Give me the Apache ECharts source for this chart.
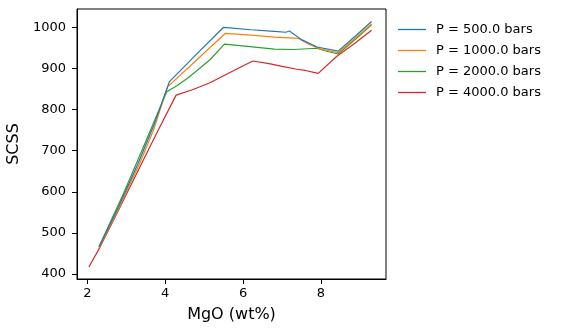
<!DOCTYPE html>
<html>
<head>
<meta charset="utf-8">
<script src="https://cdn.jsdelivr.net/npm/echarts@6/dist/echarts.min.js"></script>
<style>html,body{margin:0;padding:0;background:#fff}#c{width:565px;height:333px}</style>
</head>
<body>
<div id="c"></div>
<script>
const seriesNames = ['P = 500.0 bars', 'P = 1000.0 bars', 'P = 2000.0 bars', 'P = 4000.0 bars'];
const colors = ['#1f77b4', '#ff7f0e', '#2ca02c', '#d62728'];
const xTicks = [2, 4, 6, 8];
const yTicks = [400, 500, 600, 700, 800, 900, 1000];

const p500 = [[2.3,466],[2.8,563],[3.3,668],[3.7,760],[4.11,868],[4.8,934],[5.5,1000],[6.2,994],[6.8,990],[7.1,988],[7.19,991],[7.5,970],[7.9,952],[8.44,942],[8.9,980],[9.3,1014]];
const p1000 = [[2.3,464],[2.8,558],[3.35,670],[3.7,750],[4.06,855],[4.8,920],[5.54,985],[6.2,981],[6.8,976],[7.42,973],[7.7,958],[8.0,947],[8.44,938],[8.9,975],[9.3,1008]];
const p2000 = [[2.3,466],[2.93,596],[3.5,722],[4.04,843],[4.3,858],[4.6,878],[5.15,921],[5.52,959],[6.18,953],[6.8,947],[7.3,946],[7.89,949],[8.1,943],[8.44,935],[8.9,972],[9.3,1006]];
const p4000 = [[2.04,417],[2.33,466],[2.8,555],[3.35,660],[3.8,746],[4.28,835],[4.7,848],[5.15,865],[5.7,892],[6.25,918],[6.7,911],[7.0,905],[7.38,898],[7.6,895],[7.93,888],[8.4,929],[8.87,961],[9.3,993]];
const dataSets = [p500, p1000, p2000, p4000];

const chart = echarts.init(document.getElementById('c'), null, {renderer: 'canvas'});
const font = 'DejaVu Sans';
chart.setOption({
  animation: false,
  textStyle: {fontFamily: font},
  grid: {left: 77, right: 179, top: 9, bottom: 54, show: true, borderColor: '#000', borderWidth: 1, backgroundColor: '#fff', containLabel: false, outerBoundsMode: 'none'},
  legend: {
    orient: 'vertical', left: 398, top: 22, padding: 0, itemWidth: 28, itemHeight: 1.3, itemGap: 6,
    icon: 'rect',
    textStyle: {fontFamily: font, fontSize: 13, color: '#000', padding: [0,0,0,5], lineHeight: 15},
    data: seriesNames.map((n, i) => ({name: n, itemStyle: {color: colors[i]}}))
  },
  xAxis: {
    type: 'value', min: 1.735, max: 9.67,
    name: 'MgO (wt%)', nameLocation: 'middle', nameGap: 28,
    nameTextStyle: {fontFamily: font, fontSize: 16, color: '#000'},
    axisLine: {show: true, lineStyle: {color: '#000', width: 1}},
    axisTick: {show: true, length: 5, lineStyle: {color: '#000'}, customValues: xTicks},
    axisLabel: {fontFamily: font, fontSize: 13, color: '#000', margin: 8, customValues: xTicks, formatter: v => String(v)},
    splitLine: {show: false}
  },
  yAxis: {
    type: 'value', min: 387.8, max: 1044.5,
    name: 'SCSS', nameLocation: 'middle', nameGap: 51,
    nameTextStyle: {fontFamily: font, fontSize: 16, color: '#000'},
    axisLine: {show: true, lineStyle: {color: '#000', width: 1}},
    axisTick: {show: true, length: 5, lineStyle: {color: '#000'}, customValues: yTicks},
    axisLabel: {fontFamily: font, fontSize: 13, color: '#000', margin: 11, customValues: yTicks, formatter: v => String(v)},
    splitLine: {show: false}
  },
  series: dataSets.map((d, i) => ({
    name: seriesNames[i], type: 'line', data: d, symbol: 'none', showSymbol: false,
    lineStyle: {color: colors[i], width: 1.2}, itemStyle: {color: colors[i]}, z: 2 + (3 - i)
  }))
});
</script>
</body>
</html>
